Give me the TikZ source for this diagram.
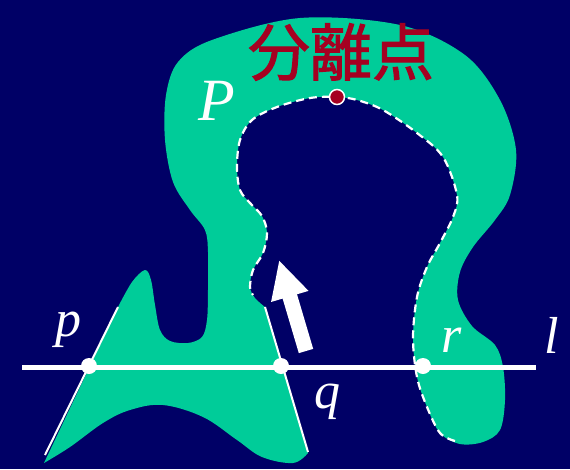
\documentclass[tikz,border=0pt]{standalone}
\usepackage{fontspec}
\setmainfont{Liberation Serif}
\newfontfamily\cjkfont[FakeBold=1.6]{Noto Sans CJK JP}
\usetikzlibrary{arrows.meta}
\definecolor{navy}{HTML}{000066}
\definecolor{blobgreen}{HTML}{00CC99}
\definecolor{sepred}{HTML}{A50021}
\tikzset{
  lbl/.style={text=white, inner sep=0pt, font=\fontsize{52}{52}\selectfont\itshape},
  pt/.style={circle, fill=white, inner sep=0pt, minimum size=16pt},
  edgeline/.style={white, line width=2pt},
  dashline/.style={white, line width=2.2pt, dash pattern=on 8pt off 5pt}
}
\begin{document}
\begin{tikzpicture}[x=1pt,y=-1pt]
\fill[navy] (0,0) rectangle (570,469);
\useasboundingbox (0,0) rectangle (570,469);
% polygon P
\fill[blobgreen] (44,463) -- (118,307)
  -- plot[smooth, tension=0.55] coordinates {(118,307) (132,282) (145,270) (151,280) (155,305) (160,330) (170,341) (188,343) (202,337) (207,320) (208,290) (208,252) (205,230) (190,210) (173,182) (165,140) (166,95) (178,62) (212,40) (300,18) (400,25) (465,55) (500,100) (516,150) (510,195) (495,220) (473,247) (460,272) (458,300) (472,326) (495,345) (503,367) (505,400) (500,430) (483,442) (460,444) (440,433) (427,407) (417,377) (413,338) (417,297) (427,267) (440,243) (453,217) (457,195) (443,157) (417,133) (383,110) (357,100) (337,97) (310,98) (277,107) (252,120) (240,140) (237,167) (240,190) (250,203) (262,216) (267,233) (263,253) (253,270) (250,287) (255,298) (265,307)}
  -- (308,453)
  -- plot[smooth, tension=0.6] coordinates {(308,453) (293,463) (262,457) (237,440) (203,417) (163,405) (130,410) (103,423) (70,447) (44,463)}
  -- cycle;
% dashed chain
\draw[dashline] plot[smooth, tension=0.55] coordinates {(455,441) (440,433) (427,407) (417,377) (413,338) (417,297) (427,267) (440,243) (453,217) (457,195) (443,157) (417,133) (383,110) (357,100) (337,97) (310,98) (277,107) (252,120) (240,140) (237,167) (240,190) (250,203) (262,216) (267,233) (263,253) (253,270) (250,287) (253,295)};
% white edges
\coordinate (e1a) at (45,455);
\coordinate (e1b) at (118,307);
\coordinate (e2a) at (265,307);
\coordinate (e2b) at (308,452);
\draw[edgeline] (e1a) -- (e1b);
\draw[edgeline] (e2a) -- (e2b);
% line l
\coordinate (la) at (22,367);
\coordinate (lb) at (536,367);
\draw[white, line width=5pt] (la) -- (lb);
\node[pt] (p) at (89,366) {};
\node[pt] (q) at (281,366) {};
\node[pt] (r) at (423,366) {};
% arrow
\coordinate (aa) at (306,351);
\coordinate (ab) at (279,260);
\draw[white, line width=15pt, -{Triangle[length=38pt,width=36pt]}] (aa) -- (ab);
% separation point
\node[circle, fill=sepred, draw=white, line width=1.5pt, minimum size=15pt, inner sep=0pt] (s) at (337,97) {};
\node[text=sepred, inner sep=0pt, font=\cjkfont\fontsize{62}{62}\selectfont] (title) at (341,52) {分離点};
% labels
\node[lbl, font=\fontsize{60}{60}\selectfont\itshape] (P) at (217,101) {P};
\node[lbl] (lp) at (68,330) {p};
\node[lbl] (lq) at (327,402) {q};
\node[lbl] (lr) at (452,340) {r};
\node[lbl] (ll) at (552,335) {l};
\end{tikzpicture}
\end{document}
